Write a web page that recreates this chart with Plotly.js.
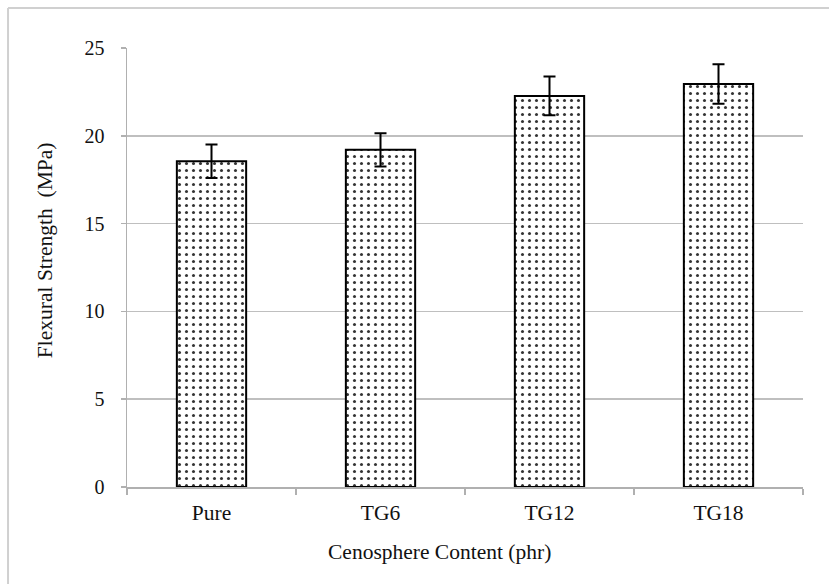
<!DOCTYPE html>
<html>
<head>
<meta charset="utf-8">
<script src="https://cdn.plot.ly/plotly-3.0.1.min.js"></script>
<style>
html,body{margin:0;padding:0;background:#fff;}
#chart{width:829px;height:584px;}
</style>
</head>
<body>
<div id="chart"></div>
<script>
var categories = ["Pure", "TG6", "TG12", "TG18"];
var strength = [18.55, 19.2, 22.27, 22.95];
var errors = [0.95, 0.95, 1.1, 1.12];
var yTicks = [0, 5, 10, 15, 20, 25];
var xTitle = "Cenosphere Content (phr)";
var yTitle = "Flexural Strength  (MPa)";

var serif = "Liberation Serif, Times New Roman, serif";

var trace = {
  type: "bar",
  x: categories,
  y: strength,
  width: 0.41,
  marker: {
    color: "white",
    line: {color: "#000", width: 2},
    pattern: {shape: ".", fgcolor: "#333", bgcolor: "white", size: 7, solidity: 0.15}
  },
  error_y: {type: "data", array: errors, visible: true, color: "#000", thickness: 2, width: 6}
};

var layout = {
  width: 829, height: 584,
  margin: {l: 127, r: 26, t: 48, b: 97},
  paper_bgcolor: "white",
  plot_bgcolor: "white",
  showlegend: false,
  bargap: 0.59,
  xaxis: {
    type: "category",
    showline: true, linecolor: "#b0b0b0", linewidth: 1.5,
    ticks: "outside", tickson: "boundaries", ticklen: 6, tickcolor: "#b0b0b0", tickwidth: 1.5,
    showgrid: false,
    tickfont: {family: serif, size: 21.5, color: "#111"},
    ticklabelstandoff: 6
  },
  yaxis: {
    range: [0, 25],
    tickvals: yTicks,
    showline: true, linecolor: "#b0b0b0", linewidth: 1.5,
    ticks: "outside", ticklen: 5, tickcolor: "#b0b0b0", tickwidth: 1.5,
    showgrid: true, gridcolor: "#bfbfbf", gridwidth: 1.5,
    zeroline: false,
    tickfont: {family: serif, size: 20, color: "#111"},
    ticklabelstandoff: 12
  },
  annotations: [
    {text: xTitle, xref: "paper", yref: "paper", x: 0.463, y: -0.148, xanchor: "center", yanchor: "middle",
     showarrow: false, font: {family: serif, size: 21.5, color: "#111"}},
    {text: yTitle, xref: "paper", yref: "paper", x: -0.121, y: 0.54, xanchor: "center", yanchor: "middle",
     textangle: -90, showarrow: false, font: {family: serif, size: 21.5, color: "#111"}}
  ],
  shapes: [
    {type: "line", xref: "paper", yref: "paper", x0: -0.176, x1: -0.176, y0: 1.0911, y1: -0.3, line: {color: "#d0d0d0", width: 2}},
    {type: "line", xref: "paper", yref: "paper", x0: -0.176, x1: 1.1, y0: 1.0911, y1: 1.0911, line: {color: "#d0d0d0", width: 2}}
  ]
};

Plotly.newPlot("chart", [trace], layout, {staticPlot: true, displayModeBar: false});
</script>
</body>
</html>
